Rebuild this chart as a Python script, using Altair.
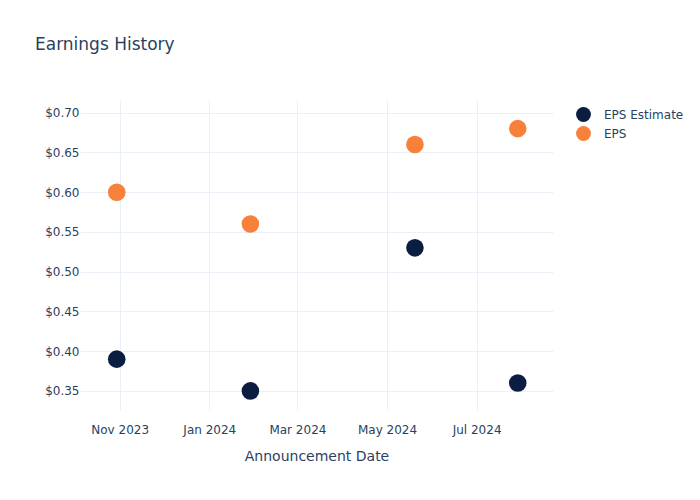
import altair as alt
import pandas as pd

dates = ["2023-10-30T00:00:00", "2024-01-29T00:00:00", "2024-05-20T00:00:00", "2024-07-29T00:00:00"]
eps_estimate = [0.39, 0.35, 0.53, 0.36]
eps_actual = [0.60, 0.56, 0.66, 0.68]
series_names = ["EPS Estimate", "EPS"]
series_colors = ["#0b1e42", "#f7803a"]

rows = []
for d, v in zip(dates, eps_estimate):
    rows.append({"date": d, "value": v, "series": series_names[0]})
for d, v in zip(dates, eps_actual):
    rows.append({"date": d, "value": v, "series": series_names[1]})
df = pd.DataFrame(rows)

font = "DejaVu Sans"
text_color = "#2a3f5f"
grid_color = "#ebf0f8"

tick_vals = [
    alt.DateTime(year=2023, month=11, date=1),
    alt.DateTime(year=2024, month=1, date=1),
    alt.DateTime(year=2024, month=3, date=1),
    alt.DateTime(year=2024, month=5, date=1),
    alt.DateTime(year=2024, month=7, date=1),
]

chart = alt.Chart(df).mark_circle(size=310, opacity=1).encode(
    x=alt.X(
        "date:T",
        title="Announcement Date",
        scale=alt.Scale(domain=[alt.DateTime(year=2023, month=10, date=5),
                                alt.DateTime(year=2024, month=8, date=22)]),
        axis=alt.Axis(values=tick_vals, format="%b %Y", labelPadding=14,
                      titlePadding=14),
    ),
    y=alt.Y(
        "value:Q",
        title=None,
        scale=alt.Scale(domain=[0.326, 0.716], nice=False, zero=False),
        axis=alt.Axis(values=[0.35, 0.40, 0.45, 0.50, 0.55, 0.60, 0.65, 0.70],
                      format="$.2f", labelPadding=1),
    ),
    color=alt.Color(
        "series:N",
        scale=alt.Scale(domain=series_names, range=series_colors),
        legend=alt.Legend(title=None, orient="none", legendX=495, legendY=6,
                          symbolSize=220, symbolType="circle", labelOffset=12,
                          rowPadding=3, padding=0, symbolOpacity=1,
                          labelFontSize=12, labelColor=text_color, labelFont=font),
    ),
).properties(
    width=473,
    height=310,
    autosize=alt.AutoSizeParams(type="none"),
    padding={"left": 80, "top": 100, "right": 147, "bottom": 90},
    title=alt.TitleParams("Earnings History", anchor="start", frame="group",
                          dx=-45, dy=-42, fontSize=17, fontWeight="normal",
                          color=text_color, font=font),
).configure_view(
    stroke=None
).configure_axis(
    grid=True,
    gridColor=grid_color,
    gridWidth=1,
    domain=False,
    ticks=False,
    labelFont=font,
    labelFontSize=12,
    labelColor=text_color,
    titleFont=font,
    titleFontSize=14,
    titleFontWeight="normal",
    titleColor=text_color,
)

chart.save("out.html", embed_options={"renderer": "svg", "actions": False})
